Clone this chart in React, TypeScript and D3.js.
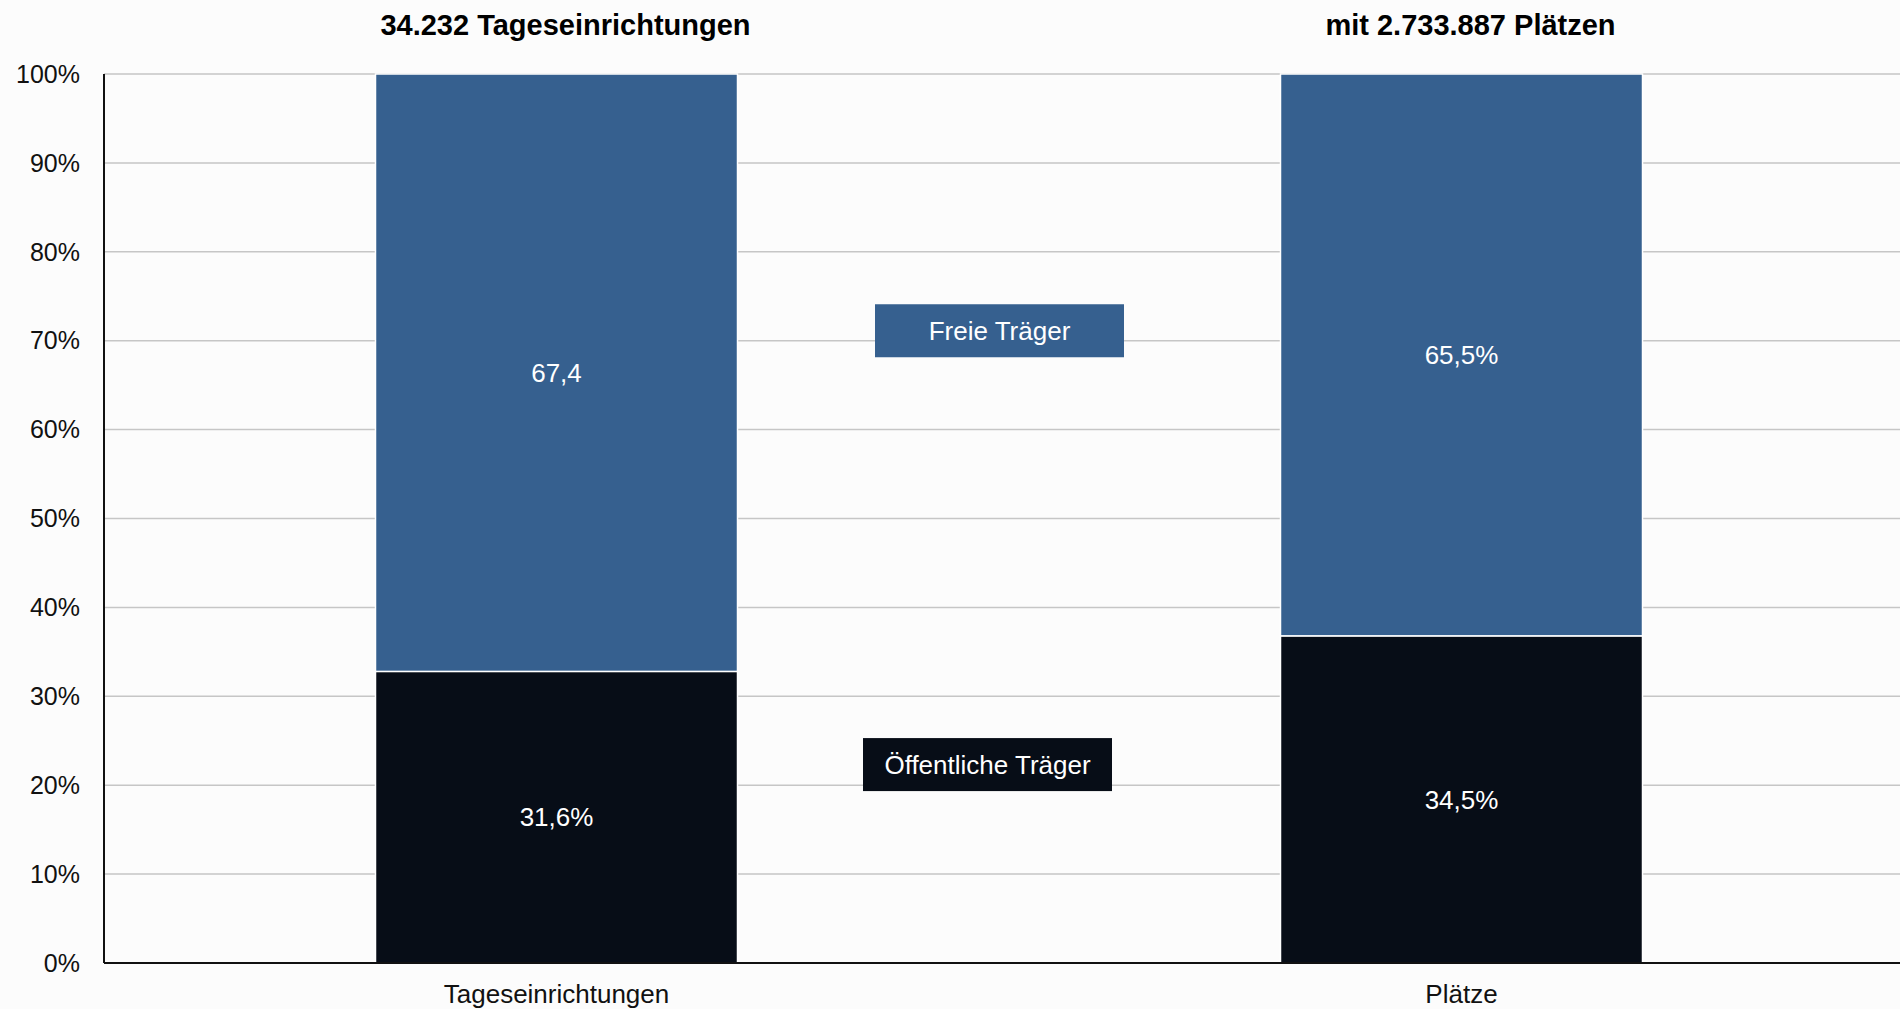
import React from 'react';
import * as d3 from 'd3';

// data
const categories = ['Tageseinrichtungen', 'Plätze'];
const topTitles = ['34.232 Tageseinrichtungen', 'mit 2.733.887 Plätzen'];
const seriesNames = ['Öffentliche Träger', 'Freie Träger'];
const oeffentlich = [32.8, 36.8];
const freie = [67.2, 63.2];
const oeffentlichLabels = ['31,6%', '34,5%'];
const freieLabels = ['67,4', '65,5%'];
const yTicks = [0, 10, 20, 30, 40, 50, 60, 70, 80, 90, 100];

const W = 1900;
const H = 1009;
const FONT = '"Liberation Sans", Arial, sans-serif';
const colors = ['#070d17', '#36608f'];

const App = () => {
    const margin = { top: 74, left: 104, bottom: 46 };
    const plotBottom = H - margin.bottom;

    const xScale = d3.scaleBand()
        .domain(categories)
        .range([margin.left, 1914])
        .paddingInner(0.6)
        .paddingOuter(0.3);
    const yScale = d3.scaleLinear().domain([0, 100]).range([plotBottom, margin.top]);

    const rows = categories.map((c, i) => ({ cat: c, oeff: oeffentlich[i], frei: freie[i] }));
    const stacked = d3.stack().keys(['oeff', 'frei'])(rows);
    const labels = [oeffentlichLabels, freieLabels];

    // legend boxes placed in the middle gap
    const legend = [
        { name: seriesNames[1], color: colors[1], x: 875, w: 249, yTop: 74.1 },
        { name: seriesNames[0], color: colors[0], x: 863, w: 249, yTop: 25.3 }
    ];
    const boxH = 53;

    return (
        <svg width={W} height={H} style={{ position: 'absolute', left: 0, top: 0, display: 'block', background: '#fcfcfc' }}
            fontFamily={FONT}>
            <rect x={0} y={0} width={W} height={H} fill="#fcfcfc" />

            {/* grid lines */}
            {yTicks.map(t => (
                <line key={'g' + t} x1={margin.left} x2={W} y1={yScale(t)} y2={yScale(t)}
                    stroke="#c6c6c6" strokeWidth={1.5} />
            ))}

            {/* y tick labels */}
            {yTicks.map(t => (
                <text key={'t' + t} x={80} y={yScale(t)} dy="0.35em" textAnchor="end"
                    fontSize={25} fill="#111">{t + '%'}</text>
            ))}

            {/* stacked bars */}
            {stacked.map((layer, li) => (
                <g key={layer.key}>
                    {layer.map((d, i) => (
                        <rect key={i}
                            x={xScale(categories[i])}
                            width={xScale.bandwidth()}
                            y={yScale(d[1])}
                            height={yScale(d[0]) - yScale(d[1])}
                            fill={colors[li]}
                            stroke="#ffffff" strokeWidth={1.5} />
                    ))}
                    {layer.map((d, i) => (
                        <text key={'l' + i}
                            x={xScale(categories[i]) + xScale.bandwidth() / 2}
                            y={(yScale(d[0]) + yScale(d[1])) / 2}
                            dy="0.35em" textAnchor="middle" fontSize={26} fill="#ffffff">
                            {labels[li][i]}
                        </text>
                    ))}
                </g>
            ))}

            {/* axes */}
            <line x1={margin.left} x2={margin.left} y1={yScale(100)} y2={plotBottom} stroke="#111" strokeWidth={2} />
            <line x1={margin.left} x2={W} y1={plotBottom} y2={plotBottom} stroke="#111" strokeWidth={2} />

            {/* category labels */}
            {categories.map(c => (
                <text key={c} x={xScale(c) + xScale.bandwidth() / 2} y={1003} textAnchor="middle"
                    fontSize={26} fill="#111">{c}</text>
            ))}

            {/* titles over the bars */}
            {topTitles.map((t, i) => (
                <text key={t} x={xScale(categories[i]) + xScale.bandwidth() / 2 + 9} y={35} textAnchor="middle"
                    fontSize={29} fontWeight="bold" fill="#000">{t}</text>
            ))}

            {/* legend */}
            {legend.map(l => (
                <g key={l.name}>
                    <rect x={l.x} y={yScale(l.yTop)} width={l.w} height={boxH} fill={l.color} />
                    <text x={l.x + l.w / 2} y={yScale(l.yTop) + boxH / 2} dy="0.35em" textAnchor="middle"
                        fontSize={26} fill="#ffffff">{l.name}</text>
                </g>
            ))}
        </svg>
    );
};

export default App;
